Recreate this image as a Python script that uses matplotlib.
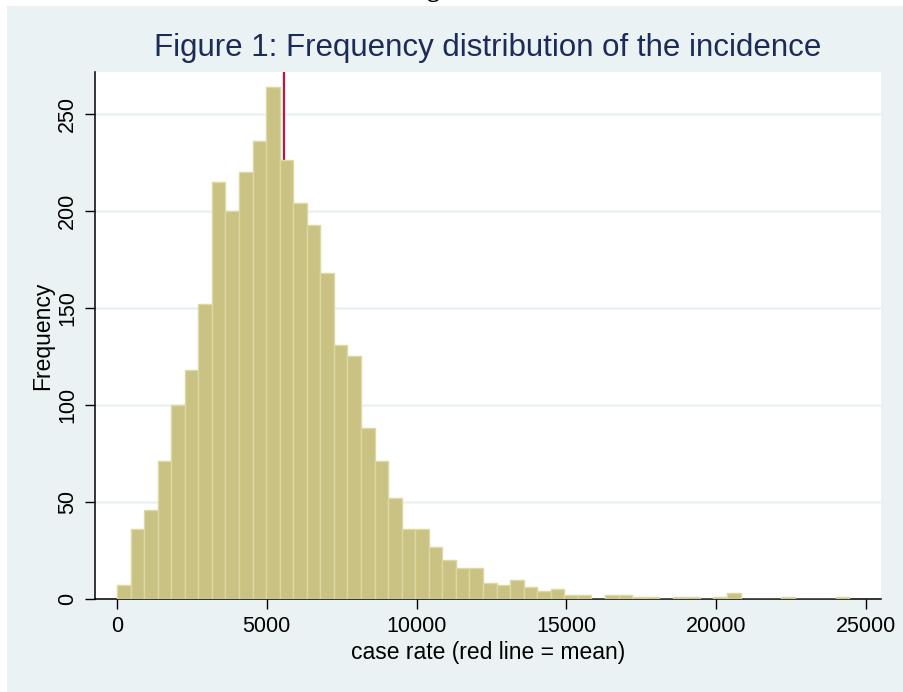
import matplotlib.pyplot as plt
import numpy as np
from matplotlib.patches import Rectangle

# histogram of case rate: bins start at 0, equal width
bin_start = 0
bin_width = 452.5
counts = np.array([7, 36, 46, 71, 100, 118, 152, 215, 200, 220,
                   236, 264, 226, 204, 193, 168, 131, 125, 88, 71,
                   52, 36, 36, 27, 20, 16, 16, 8, 7, 10,
                   6, 4, 5, 2, 2, 0, 2, 2, 1, 1,
                   0, 1, 1, 0, 1, 3, 0, 0, 0, 1,
                   0, 0, 0, 1])
mean_rate = 5590

x_ticks = [0, 5000, 10000, 15000, 20000, 25000]
y_ticks = [0, 50, 100, 150, 200, 250]

plt.rcParams['font.family'] = ['Liberation Sans', 'DejaVu Sans']

fig = plt.figure(figsize=(9.04, 6.92), dpi=100)
fig.patch.set_facecolor('white')
bg = Rectangle((7 / 904, 0), 1 - 7 / 904, 1 - 6 / 692,
               transform=fig.transFigure, facecolor='#eaf2f3',
               edgecolor='none', zorder=-5)
fig.patches.append(bg)

# heading of the page above, mostly cut off
fig.text(441 / 904, 1 + 3 / 692, 'Figure', fontsize=18, fontweight='bold',
         family='Liberation Serif', ha='center', va='baseline', color='black')

ax = fig.add_axes([95 / 904, 1 - 599 / 692, 786 / 904, 527 / 692])
ax.set_zorder(2)
ax.set_facecolor('white')

edges = bin_start + bin_width * np.arange(len(counts))
ax.bar(edges, counts, width=bin_width, align='edge',
       facecolor='#c9c283', edgecolor='#dcd8a3', linewidth=1.0, zorder=3)
ax.axvline(mean_rate, color='#c8103e', linewidth=1.6, zorder=2)

ax.set_xlim(-734, 25501)
ax.set_ylim(0, 271.6)
ax.set_xticks(x_ticks)
ax.set_yticks(y_ticks)
ax.set_yticklabels([str(v) for v in y_ticks], rotation=90, va='center')
ax.tick_params(axis='both', direction='out', length=7, width=1,
               labelsize=15.5, color='black', pad=5)
ax.grid(True, axis='y', color='#eaf2f3', linewidth=1.8, zorder=1)
ax.set_axisbelow(True)

for s in ['top', 'right']:
    ax.spines[s].set_visible(False)
for s in ['left', 'bottom']:
    ax.spines[s].set_linewidth(1.1)
    ax.spines[s].set_color('black')

ax.set_xlabel('case rate (red line = mean)', fontsize=16.5, labelpad=3)
ax.set_ylabel('Frequency', fontsize=16.5, labelpad=2)

fig.text(488 / 904, 1 - 48 / 692, 'Figure 1: Frequency distribution of the incidence',
         fontsize=22.5, color='#1c2b58', ha='center', va='center')

fig.savefig('out.png', dpi=100)
